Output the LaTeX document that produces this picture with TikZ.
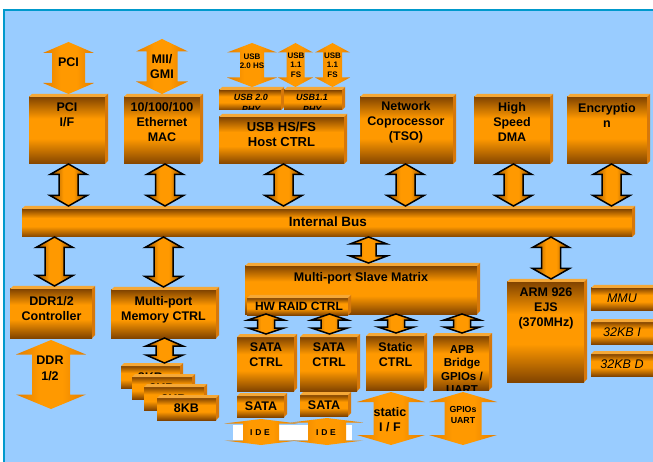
\documentclass[tikz,border=0pt]{standalone}
\usepackage{fontspec}
\setmainfont{Liberation Sans}
\usetikzlibrary{calc}
\definecolor{bgblue}{RGB}{153,204,255}
\definecolor{framec}{RGB}{0,153,204}
\definecolor{org}{RGB}{255,153,0}
\definecolor{dkb}{RGB}{130,68,0}
\definecolor{org2}{RGB}{226,126,0}
\definecolor{topf}{RGB}{245,168,55}
\definecolor{sidef}{RGB}{214,120,10}
\pgfdeclareverticalshading{boxsh}{100bp}{color(0bp)=(dkb); color(25bp)=(dkb); color(44bp)=(org); color(59bp)=(org); color(75bp)=(dkb); color(100bp)=(dkb)}
\pgfdeclarehorizontalshading{arrsh}{100bp}{color(0bp)=(dkb); color(25bp)=(dkb); color(43bp)=(org); color(57bp)=(org); color(75bp)=(dkb); color(100bp)=(dkb)}
\pgfdeclarehorizontalshading{oarrsh}{100bp}{color(0bp)=(org2); color(25bp)=(org2); color(42bp)=(org); color(58bp)=(org); color(75bp)=(org2); color(100bp)=(org2)}
\tikzset{
  box/.style={rectangle, inner sep=0pt, outer sep=0pt, shade, shading=boxsh, draw=none},
  arS/.code={\def\arS{#1pt}}, arH/.code={\def\arH{#1pt}},
  arL/.code={\def\arL{#1pt}}, arD/.code={\def\arD{#1pt}},
  barrow/.style={arS=9.5, arH=18.5, arL=10.5, arD=0, draw=black, line width=1.5pt, shade, shading=arrsh},
  oarrow/.style={arS=16, arH=25, arL=11, arD=0, draw=none, shade, shading=oarrsh},
  txt/.style={font=\bfseries\fontsize{12.5}{15}\selectfont, align=center, inner sep=0pt, text=black},
  stxt/.style={font=\bfseries\fontsize{8}{9.5}\selectfont, align=center, inner sep=0pt, text=black},
  itxt/.style={font=\itshape\fontsize{12.5}{15}\selectfont, align=center, inner sep=0pt, text=black},
}
\newcommand\mkcube[2][3]{%
  \fill[topf] (#2.north west) -- ++(#1pt,#1pt) -- ($(#2.north east)+(#1pt,#1pt)$) -- (#2.north east) -- cycle;
  \fill[sidef] (#2.north east) -- ++(#1pt,#1pt) -- ($(#2.south east)+(#1pt,#1pt)$) -- (#2.south east) -- cycle;}
\newcommand\mkblk[5]{%
  \node[box, minimum width={#4-#2}, minimum height={#5-#3}] (#1) at ({(#2+#4)/2},{(#3+#5)/2}) {};
  \mkcube{#1}}
\newcommand\bidir[3][]{%
  \path[#1] let \p1=(#2), \p2=(#3) in
    (\x1+\arD,\y1) -- (\x1+\arD+\arH,\y1-\arL) -- (\x1+\arD+\arS,\y1-\arL)
    -- (\x1+\arD+\arS,\y2+\arL) -- (\x1+\arD+\arH,\y2+\arL) -- (\x1+\arD,\y2)
    -- (\x1+\arD-\arH,\y2+\arL) -- (\x1+\arD-\arS,\y2+\arL)
    -- (\x1+\arD-\arS,\y1-\arL) -- (\x1+\arD-\arH,\y1-\arL) -- cycle;}
\begin{document}
\begin{tikzpicture}[x=1pt,y=-1pt]
\useasboundingbox (0,0) rectangle (653,462);
\fill[white] (0,0) rectangle (653,462);
\fill[bgblue] (4,10) rectangle (653,462);
\draw[framec, line width=2pt] (4,462) -- (4,10) -- (653,10);

% ---- top row boxes
\mkblk{pcif}{29}{97}{105}{164}
\mkblk{eth}{124}{97}{200}{164}
\mkblk{phy1}{219}{90}{281}{110}
\mkblk{phy2}{284}{90}{342}{110}
\mkblk{host}{219}{117}{344}{164}
\mkblk{net}{360}{97}{453}{164}
\mkblk{dma}{474}{97}{550}{164}
\mkblk{enc}{567}{97}{647}{164}
\mkblk{bus}{22}{209}{632}{237}

\node[txt] (pcif-t) at (67,114.5) {PCI\\I/F};
\node[txt] (eth-t) at (162,122) {10/100/100\\Ethernet\\MAC};
\begin{scope}
  \clip (phy1.south west) rectangle (phy1.north east);
  \node[txt, font=\bfseries\itshape\fontsize{9}{12}\selectfont] (phy1-t) at (251,103) {USB 2.0\\PHY};
\end{scope}
\begin{scope}
  \clip (phy2.south west) rectangle (phy2.north east);
  \node[txt, font=\bfseries\itshape\fontsize{9}{12}\selectfont] (phy2-t) at (312,103) {USB1.1\\PHY};
\end{scope}
\node[txt, font=\bfseries\fontsize{13}{15.5}\selectfont] (host-t) at (281.5,134.5) {USB HS/FS\\Host CTRL};
\node[txt] (net-t) at (406,122) {Network\\Coprocessor\\(TSO)};
\node[txt] (dma-t) at (512,122) {High\\Speed\\DMA};
\node[txt] (enc-t) at (607,115.5) {Encryptio\\n};
\node[txt, font=\bfseries\fontsize{13.5}{16}\selectfont] (bus-t) at (328,222) {Internal Bus};

% ---- top external arrows
\coordinate (pciext) at (68.5,42);
\coordinate (miiext) at (162,39);
\coordinate (usbaext) at (252,43);
\coordinate (usbbext) at (295.5,43);
\coordinate (usbcext) at (332.5,43);
\bidir[oarrow,arS=16.5,arH=25.5,arL=11]{pciext}{[yshift=3pt]pcif.north}
\bidir[oarrow,arS=15.5,arH=26,arL=12.5]{miiext}{[yshift=3pt]eth.north}
\bidir[oarrow,arS=12,arH=25,arL=9.5]{usbaext}{[yshift=3pt]phy1.north}
\bidir[oarrow,arS=9,arH=17.5,arL=9.5]{usbbext}{[yshift=3pt]phy2.north}
\bidir[oarrow,arS=9.5,arH=17.5,arL=9.5]{usbcext}{[yshift=3pt]phy2.north}
\node[txt] (pci-t) at (68.5,62) {PCI};
\node[txt] (mii-t) at (162,67) {MII/\\GMI};
\node[stxt] (usba-t) at (252,61) {USB\\2.0 HS};
\node[stxt] (usbb-t) at (296,65) {USB\\1.1\\FS};
\node[stxt] (usbc-t) at (332.5,65) {USB\\1.1\\FS};

% ---- arrows to internal bus
\bidir[barrow,arD=1.5]{pcif.south}{[yshift=3pt]bus.north}
\bidir[barrow,arD=3]{eth.south}{[yshift=3pt]bus.north}
\bidir[barrow,arD=2]{host.south}{[yshift=3pt]bus.north}
\bidir[barrow,arD=-1]{net.south}{[yshift=3pt]bus.north}
\bidir[barrow,arD=1.5]{dma.south}{[yshift=3pt]bus.north}
\bidir[barrow,arD=4.5]{enc.south}{[yshift=3pt]bus.north}

% ---- lower left
\mkblk{ddrc}{10}{289}{92}{338}
\mkblk{mem}{111}{290}{216}{338}
\node[txt] (ddrc-t) at (51.5,309) {DDR1/2\\Controller};
\node[txt] (mem-t) at (163.5,310) {Multi-port\\Memory CTRL};
\bidir[barrow,arD=3.5]{ddrc.north |- bus.south}{[yshift=3pt]ddrc.north}
\bidir[barrow,arD=0]{mem.north |- bus.south}{[yshift=3pt]mem.north}

\coordinate (ddrext) at (51,409);
\bidir[oarrow,arS=19,arH=35,arL=14.5]{[yshift=-2pt]ddrc.south}{ddrext}
\node[txt, font=\bfseries\fontsize{12.5}{16}\selectfont] (ddr-t) at (50,368) {DDR\\1/2};

\mkblk{kb1}{121}{366}{180}{388}
\node[txt] (kb1-t) at (150.5,377.5) {8KB};
\mkblk{kb2}{132}{377}{192}{399}
\node[txt] (kb2-t) at (162,388.5) {8KB};
\mkblk{kb3}{144}{387}{204}{410}
\node[txt] (kb3-t) at (174,399) {8KB};
\mkblk{kb4}{157}{398}{216}{420}
\node[txt] (kb4-t) at (186.5,408) {8KB};
\bidir[barrow,arD=1,arS=8.5,arL=8]{mem.south}{[yshift=3pt]kb1.north}

% ---- slave matrix
\mkblk{slave}{245}{266}{477}{314}
\node[txt] (slave-t) at (361,278) {Multi-port Slave Matrix};
\mkblk{raid}{247}{298}{348}{315}
\node[txt, font=\bfseries\fontsize{12}{14}\selectfont] (raid-t) at (299,306) {HW RAID CTRL};
\bidir[barrow,arD=7.5,arS=7.5,arL=7]{slave.north |- bus.south}{[yshift=3pt]slave.north}

\mkblk{sata1}{237}{337}{294}{391}
\mkblk{sata2}{300}{337}{357}{391}
\mkblk{static}{366}{336}{424}{390}
\mkblk{apb}{433}{336}{489}{390}
\node[txt] (sata1-t) at (266,354.5) {SATA\\CTRL};
\node[txt] (sata2-t) at (329,354.5) {SATA\\CTRL};
\node[txt] (static-t) at (395.5,354.5) {Static\\CTRL};
\begin{scope}
  \clip (apb.south west) rectangle (apb.north east);
  \node[txt, font=\bfseries\fontsize{11.5}{13.5}\selectfont] (apb-t) at (462,369.5) {APB\\Bridge\\GPIOs /\\UART};
\end{scope}
\bidir[barrow,arD=0.5,arS=8.5,arH=18,arL=6]{sata1.north |- slave.south}{[yshift=3pt]sata1.north}
\bidir[barrow,arD=1,arS=8.5,arH=18,arL=6]{sata2.north |- slave.south}{[yshift=3pt]sata2.north}
\bidir[barrow,arD=1,arS=8.5,arH=18,arL=6]{static.north |- slave.south}{[yshift=3pt]static.north}
\bidir[barrow,arD=1,arS=8.5,arH=18,arL=6]{apb.north |- slave.south}{[yshift=3pt]apb.north}

\mkblk{sat1}{237}{396}{284}{417}
\mkblk{sat2}{300}{395}{348}{416}
\node[txt] (sat1-t) at (261,406) {SATA};
\node[txt] (sat2-t) at (324,405) {SATA};

% ---- IDE, static I/F, GPIOs
\fill[white] (233,425) rectangle (352,440);
\coordinate (ide1ext) at (261,445);
\coordinate (ide2ext) at (327,445);
\coordinate (statext) at (391,445);
\coordinate (gpioext) at (463,445);
\bidir[oarrow,arD=0.5,arS=18,arH=36.5,arL=4.5]{[yshift=-2pt]sat1.south}{ide1ext}
\bidir[oarrow,arD=3,arS=19,arH=36,arL=4.5]{[yshift=-2pt]sat2.south}{ide2ext}
\bidir[oarrow,arD=-4,arS=17.5,arH=34,arL=10]{[yshift=-2pt]static.south}{statext}
\bidir[oarrow,arD=2,arS=18.5,arH=34,arL=10]{[yshift=-2pt]apb.south}{gpioext}
\node[txt, font=\bfseries\fontsize{8.5}{10}\selectfont] (ide1-t) at (260,433) {I\,\,D\,\,E};
\node[txt, font=\bfseries\fontsize{8.5}{10}\selectfont] (ide2-t) at (326,433) {I\,\,D\,\,E};
\node[txt] (stat-t) at (390,419.5) {static\\I / F};
\node[txt, font=\bfseries\fontsize{8.8}{11}\selectfont] (gpio-t) at (463,414.5) {GPIOs\\UART};

% ---- ARM
\mkblk{arm}{507}{282}{584}{382}
\node[txt] (arm-t) at (546,308) {ARM 926\\EJS\\(370MHz)};
\bidir[barrow,arD=5.5]{arm.north |- bus.south}{[yshift=3pt]arm.north}
\mkblk{mmu}{591}{288}{656}{310}
\mkblk{kbi}{591}{322}{656}{344}
\mkblk{kbd}{591}{354}{656}{376}
\node[itxt] (mmu-t) at (622,298.5) {MMU};
\node[itxt] (kbi-t) at (622,332.5) {32KB I};
\node[itxt] (kbd-t) at (622,364) {32KB D};
\end{tikzpicture}
\end{document}
